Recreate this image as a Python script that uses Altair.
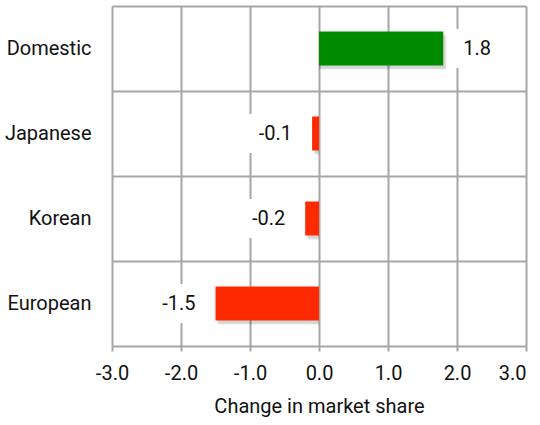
import altair as alt
import pandas as pd

categories = ["Domestic", "Japanese", "Korean", "European"]
changes = [1.8, -0.1, -0.2, -1.5]
x_ticks = [-3, -2, -1, 0, 1, 2, 3]

df = pd.DataFrame({"cat": categories, "v": changes})

FONT = "Roboto"
FS = 20
GRID = "#A6A6A6"
W, H = 414, 340
PX = 6.0 / W  # data units per pixel

y_enc = alt.Y(
    "cat:N",
    sort=categories,
    scale=alt.Scale(paddingInner=0, paddingOuter=0),
    axis=alt.Axis(
        title=None, ticks=False, domain=False, labelPadding=21,
        labelFontSize=FS, labelFont=FONT, labelColor="#111111",
        grid=True, bandPosition=0, gridColor=GRID, gridWidth=2,
    ),
)
x_scale = alt.Scale(domain=[-3, 3], nice=False)
x_axis = alt.Axis(
    values=x_ticks, format=".1f", title="Change in market share",
    labelExpr="replace(datum.label, '\u2212', '-')",
    labelFlush=False,
    labelAlign={"expr": "datum.value >= 3 ? 'right' : 'center'"},
    grid=True, gridColor=GRID, gridWidth=2,
    domainColor=GRID, domainWidth=2, tickColor=GRID, tickWidth=2, tickSize=5,
    labelFontSize=FS, labelFont=FONT, labelColor="#111111", labelPadding=12,
    titleFontSize=FS, titleFont=FONT, titleFontWeight="normal",
    titleColor="#111111", titlePadding=13,
)

base = alt.Chart(df).transform_calculate(
    lo=f"datum.v >= 0 ? datum.v + {6 * PX} : datum.v - {64 * PX}",
    hi=f"datum.v >= 0 ? datum.v + {56 * PX} : datum.v - {6 * PX}",
    tpos=f"datum.v >= 0 ? datum.v + {20 * PX} : datum.v - {20 * PX}",
    lab="replace(format(datum.v, '.1f'), '\u2212', '-')",
)

shadow1 = base.mark_bar(height=34, color="black", opacity=0.10, xOffset=3, yOffset=4).encode(
    x=alt.X("v:Q", scale=x_scale, axis=x_axis),
    x2=alt.datum(0),
    y=y_enc,
)
shadow2 = base.mark_bar(height=36, color="black", opacity=0.07, xOffset=2, yOffset=2).encode(
    x=alt.X("v:Q", scale=x_scale, axis=x_axis),
    x2=alt.datum(0),
    y=y_enc,
)

bars = base.mark_bar(height=34).encode(
    x=alt.X("v:Q", scale=x_scale, axis=x_axis),
    x2=alt.datum(0),
    y=y_enc,
    color=alt.condition("datum.v >= 0", alt.value("#008A00"), alt.value("#FF2A00")),
)

boxes = base.mark_bar(height=39, color="white").encode(
    x=alt.X("lo:Q", scale=x_scale, axis=x_axis),
    x2="hi:Q",
    y=y_enc,
)

text_pos = base.transform_filter("datum.v >= 0").mark_text(
    align="left", baseline="middle", font=FONT, fontSize=FS, color="#111111"
).encode(
    x=alt.X("tpos:Q", scale=x_scale, axis=x_axis),
    y=y_enc,
    text="lab:N",
)
text_neg = base.transform_filter("datum.v < 0").mark_text(
    align="right", baseline="middle", font=FONT, fontSize=FS, color="#111111"
).encode(
    x=alt.X("tpos:Q", scale=x_scale, axis=x_axis),
    y=y_enc,
    text="lab:N",
)

chart = alt.layer(shadow2, shadow1, bars, boxes, text_pos, text_neg).properties(
    width=W, height=H,
    autosize=alt.AutoSizeParams(type="none"),
    padding={"left": 112, "top": 6, "right": 14, "bottom": 79},
).configure_view(stroke=None).configure(background="white")

chart.save("out.html", embed_options={"renderer": "svg", "actions": False})
